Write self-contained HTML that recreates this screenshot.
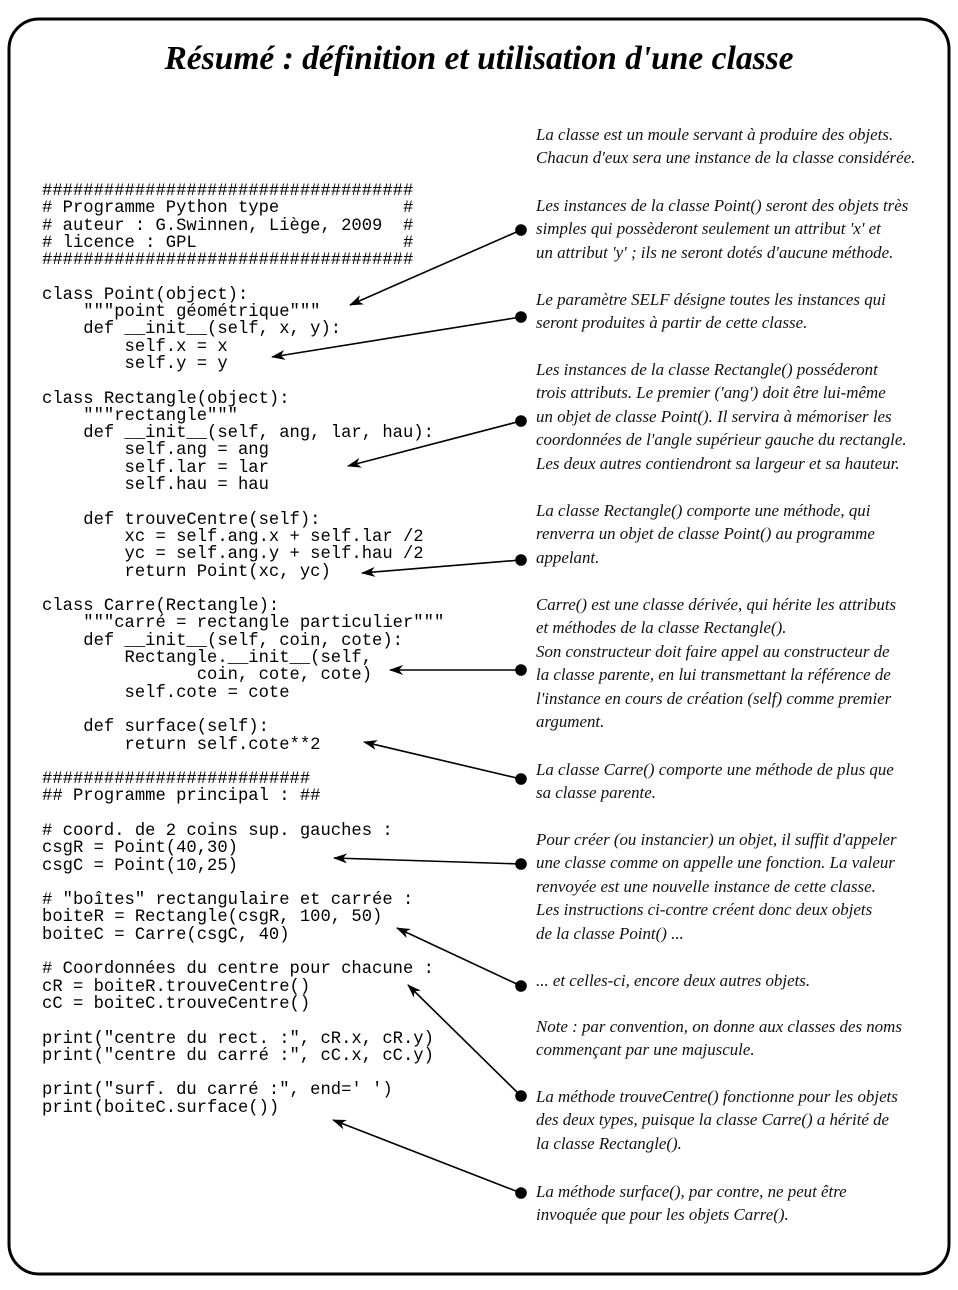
<!DOCTYPE html>
<html><head><meta charset="utf-8"><style>
body{margin:0;width:958px;height:1290px;background:#fff;position:relative;overflow:hidden}
pre{position:absolute;left:42px;top:183px;margin:0;font-family:"Liberation Mono",monospace;font-size:17.2px;line-height:17.3px;color:#000}
.t{position:absolute;left:536px;font-family:"Liberation Serif",serif;font-style:italic;font-size:16.9px;line-height:23.4px;white-space:nowrap;color:#111}
h1{position:absolute;top:40px;left:0;width:958px;text-align:center;margin:0;font-family:"Liberation Serif",serif;font-style:italic;font-weight:bold;font-size:33.5px}
svg{position:absolute;left:0;top:0}
</style></head><body>
<svg width="958" height="1290">
<defs><marker id="a" markerWidth="14" markerHeight="10" refX="13" refY="5" orient="auto" markerUnits="userSpaceOnUse"><path d="M0,0 L14,5 L0,10 L4,5 z" fill="#000"/></marker></defs>
<rect x="9" y="19" width="940" height="1255" rx="30" fill="none" stroke="#000" stroke-width="3"/>
<g stroke="#000" stroke-width="1.6" fill="#000">
<line x1="521" y1="230" x2="350" y2="305" marker-end="url(#a)"/><circle cx="521" cy="230" r="5"/>
<line x1="521" y1="317" x2="272" y2="357" marker-end="url(#a)"/><circle cx="521" cy="317" r="5"/>
<line x1="521" y1="421" x2="348" y2="466" marker-end="url(#a)"/><circle cx="521" cy="421" r="5"/>
<line x1="521" y1="560" x2="362" y2="573" marker-end="url(#a)"/><circle cx="521" cy="560" r="5"/>
<line x1="521" y1="670" x2="390" y2="670" marker-end="url(#a)"/><circle cx="521" cy="670" r="5"/>
<line x1="521" y1="779" x2="364" y2="742" marker-end="url(#a)"/><circle cx="521" cy="779" r="5"/>
<line x1="521" y1="864" x2="334" y2="858" marker-end="url(#a)"/><circle cx="521" cy="864" r="5"/>
<line x1="521" y1="986" x2="397" y2="928" marker-end="url(#a)"/><circle cx="521" cy="986" r="5"/>
<line x1="521" y1="1096" x2="408" y2="985" marker-end="url(#a)"/><circle cx="521" cy="1096" r="5"/>
<line x1="521" y1="1193" x2="333" y2="1120" marker-end="url(#a)"/><circle cx="521" cy="1193" r="5"/>
</g></svg>
<h1>Résumé : définition et utilisation d'une classe</h1>
<pre>####################################
# Programme Python type            #
# auteur : G.Swinnen, Liège, 2009  #
# licence : GPL                    #
####################################

class Point(object):
    """point géométrique"""
    def __init__(self, x, y):
        self.x = x
        self.y = y

class Rectangle(object):
    """rectangle"""
    def __init__(self, ang, lar, hau):
        self.ang = ang
        self.lar = lar
        self.hau = hau

    def trouveCentre(self):
        xc = self.ang.x + self.lar /2
        yc = self.ang.y + self.hau /2
        return Point(xc, yc)

class Carre(Rectangle):
    """carré = rectangle particulier"""
    def __init__(self, coin, cote):
        Rectangle.__init__(self,
               coin, cote, cote)
        self.cote = cote

    def surface(self):
        return self.cote**2

##########################
## Programme principal : ##

# coord. de 2 coins sup. gauches :
csgR = Point(40,30)
csgC = Point(10,25)

# "boîtes" rectangulaire et carrée :
boiteR = Rectangle(csgR, 100, 50)
boiteC = Carre(csgC, 40)

# Coordonnées du centre pour chacune :
cR = boiteR.trouveCentre()
cC = boiteC.trouveCentre()

print("centre du rect. :", cR.x, cR.y)
print("centre du carré :", cC.x, cC.y)

print("surf. du carré :", end=' ')
print(boiteC.surface())</pre>
<div class="t" style="top:123px">La classe est un moule servant à produire des objets.<br>Chacun d'eux sera une instance de la classe considérée.</div>
<div class="t" style="top:194px">Les instances de la classe Point() seront des objets très<br>simples qui possèderont seulement un attribut 'x' et<br>un attribut 'y' ; ils ne seront dotés d'aucune méthode.</div>
<div class="t" style="top:288px">Le paramètre SELF désigne toutes les instances qui<br>seront produites à partir de cette classe.</div>
<div class="t" style="top:358px">Les instances de la classe Rectangle() posséderont<br>trois attributs. Le premier ('ang') doit être lui-même<br>un objet de classe Point(). Il servira à mémoriser les<br>coordonnées de l'angle supérieur gauche du rectangle.<br>Les deux autres contiendront sa largeur et sa hauteur.</div>
<div class="t" style="top:499px">La classe Rectangle() comporte une méthode, qui<br>renverra un objet de classe Point() au programme<br>appelant.</div>
<div class="t" style="top:593px">Carre() est une classe dérivée, qui hérite les attributs<br>et méthodes de la classe Rectangle().<br>Son constructeur doit faire appel au constructeur de<br>la classe parente, en lui transmettant la référence de<br>l'instance en cours de création (self) comme premier<br>argument.</div>
<div class="t" style="top:758px">La classe Carre() comporte une méthode de plus que<br>sa classe parente.</div>
<div class="t" style="top:828px">Pour créer (ou instancier) un objet, il suffit d'appeler<br>une classe comme on appelle une fonction. La valeur<br>renvoyée est une nouvelle instance de cette classe.<br>Les instructions ci-contre créent donc deux objets<br>de la classe Point() ...</div>
<div class="t" style="top:969px">... et celles-ci, encore deux autres objets.</div>
<div class="t" style="top:1015px">Note : par convention, on donne aux classes des noms<br>commençant par une majuscule.</div>
<div class="t" style="top:1085px">La méthode trouveCentre() fonctionne pour les objets<br>des deux types, puisque la classe Carre() a hérité de<br>la classe Rectangle().</div>
<div class="t" style="top:1180px">La méthode surface(), par contre, ne peut être<br>invoquée que pour les objets Carre().</div>
</body></html>
